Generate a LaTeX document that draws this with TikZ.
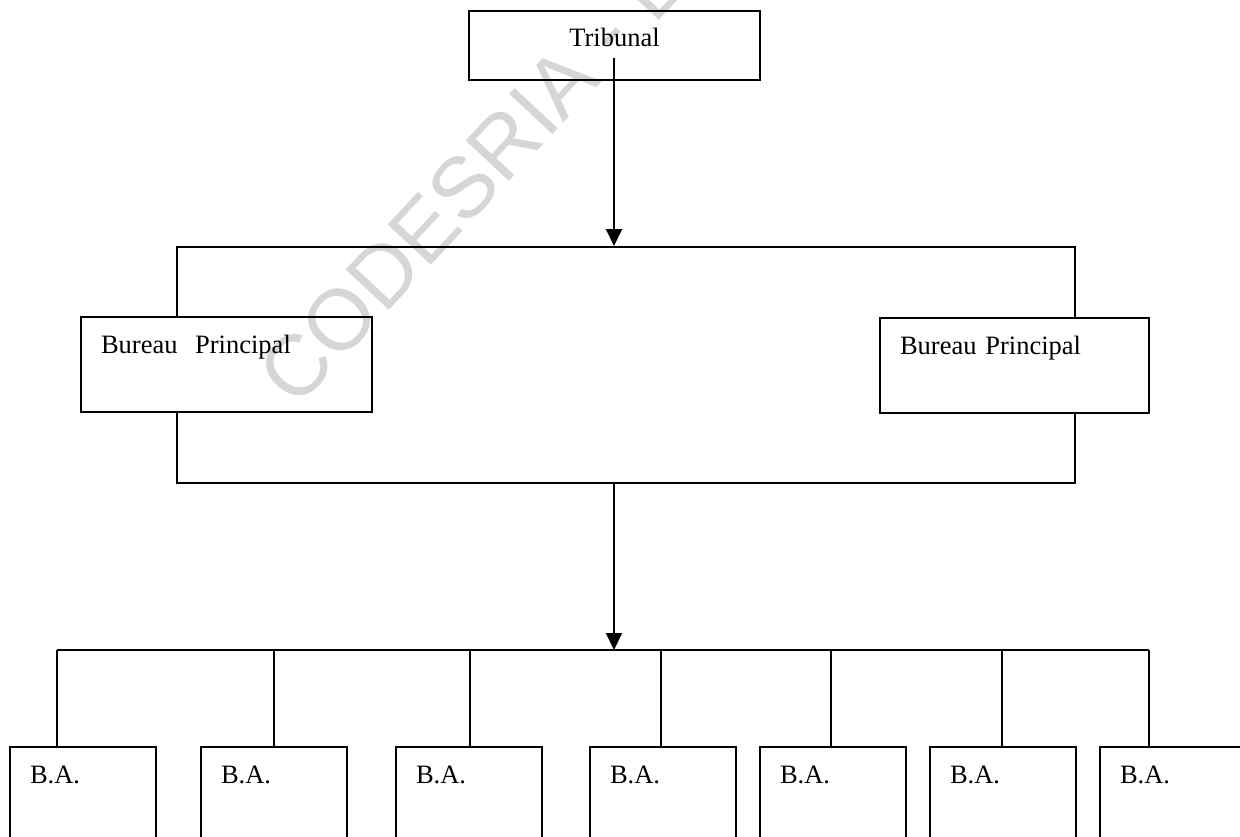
\documentclass[tikz,border=0pt]{standalone}
\usepackage{fontspec}
\setmainfont{Liberation Serif}
\newfontfamily\wmfont{Liberation Sans}
\usetikzlibrary{arrows.meta}

\begin{document}
\begin{tikzpicture}[x = 1pt, y = -1pt]
\tikzstyle{orgbox} = [draw, rectangle, line width = 2pt, fill = white, inner xsep = 20pt, inner ysep = 0pt, align = left, font = \fontsize{26.5}{30}\selectfont]
\tikzstyle{link} = [line width = 2pt]
\tikzstyle{down} = [link, -{Triangle[length = 17pt, width = 16pt]}]
\useasboundingbox (0,0) rectangle (1240,836);

\node [ orgbox, fill = none, minimum width = 898pt, minimum height = 236pt, inner sep = 0pt ] (frame) at (626,365) {};
\node [ orgbox, text width = 251pt, align = center, text height = 35pt, text depth = 34pt ] (trib) at (614.5,45.5) {Tribunal};
\node [ orgbox, text width = 251pt, text height = 36pt, text depth = 59pt ] (bp1) at (226.5,364.5) {Bureau\ \ Principal};
\node [ orgbox, text width = 229pt, text height = 36pt, text depth = 59pt ] (bp2) at (1014.5,365.5) {Bureau Principal};

\coordinate (src) at (614,58);
\draw [ down ] (src) -- (src |- frame.north);

\foreach \l/\c [count = \i] in {9/57, 200/274, 395/470, 589/661, 759/831, 929/1002, 1099/1149} {
  \coordinate (bus\i) at (\c,650);
  \node [ orgbox, text width = 106pt, text height = 36pt, text depth = 90pt, anchor = north west ] (ba\i) at (\l,746) {B.A.};
  \draw [ link ] (bus\i) -- (bus\i |- ba\i.north);
}
\draw [ link ] (bus1) -- (bus7);
\draw [ down ] (src |- frame.south) -- (src |- bus1);

\node [ rotate = 47, anchor = base west, inner sep = 0pt, text opacity = 0.16, font = \wmfont\fontsize{86}{90}\selectfont ] (wm) at (296,410) {CODESRIA - LIBRARY};
\end{tikzpicture}
\end{document}
